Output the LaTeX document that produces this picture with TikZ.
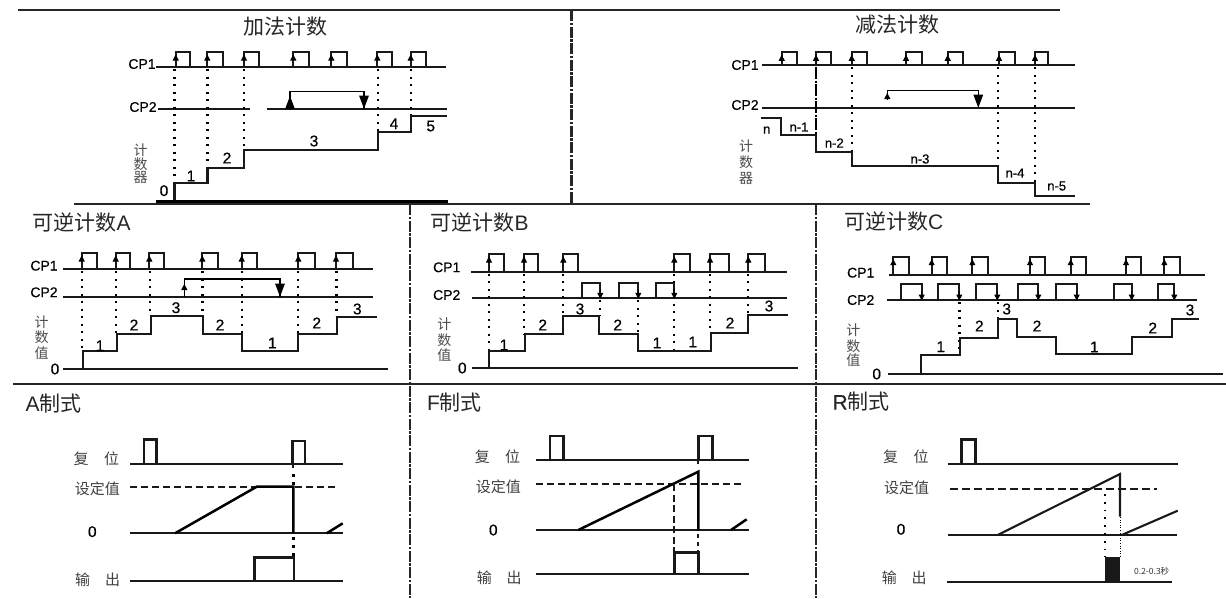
\documentclass[tikz,border=0pt]{standalone}
\usepackage{fontspec}
\setmainfont{Liberation Sans}
\newfontfamily\heavy[FakeBold=0.5]{Liberation Sans}
\newfontfamily\cjk{Noto Sans CJK SC}
\usetikzlibrary{arrows.meta}

\tikzset{
  frameline/.style={line width=2.1pt, black!85},
  divline/.style={line width=2.4pt, black!85, dash pattern=on 11pt off 1.5pt on 2.5pt off 1.5pt},
  sig/.style={line width=1.7pt, black!90},
  fatsig/.style={line width=2.1pt, black!90},
  modepulse/.style={line width=2.9pt, black!90},
  ticks/.style={line width=2.2pt, dash pattern=on 2.2pt off 5.3pt},
  smalltip/.style={-{Triangle[length=6pt,width=6pt]}, line width=1pt},
  bigtip/.style={-{Triangle[length=13pt,width=9.5pt]}, line width=1pt},
  chead/.style={font=\fontsize{21}{21}\selectfont, text=black!85},
  ctext/.style={font=\cjk\fontsize{14}{14}\selectfont, text=black!70},
  mtext/.style={font=\cjk\fontsize{15}{15}\selectfont, text=black!75},
  cplabel/.style={font=\heavy\fontsize{14}{14}\selectfont},
  val/.style={font=\heavy\fontsize{15.5}{15.5}\selectfont},
  nval/.style={font=\heavy\fontsize{13}{13}\selectfont},
}

% pulse on a line: rising x, falling x, top y, base y
\newcommand{\cpbox}[4]{\draw[sig] (#1,#4) -- (#1,#3) -- (#2,#3) -- (#2,#4);}
\newcommand{\cpup}[4]{\cpbox{#1}{#2}{#3}{#4}
  \draw[smalltip] (#1,#3+9) -- (#1,#3+2.5);}
\newcommand{\cpdown}[4]{\cpbox{#1}{#2}{#3}{#4}
  \draw[smalltip] (#2,#4-9) -- (#2,#4+0.5);}

\begin{document}
\begin{tikzpicture}[x=1pt, y=-1pt, line cap=butt, line join=miter]
\useasboundingbox (0,0) rectangle (1226,598);

% frame
\draw[frameline] (18,10) -- (1060,10);
\draw[frameline] (74,204) -- (1090,204);
\draw[frameline] (13,384) -- (1226,384);
\draw[divline] (571.5,10) -- (571.5,204);
\draw[divline] (410,204) -- (410,598);
\draw[divline] (816,204) -- (816,598);


% count up
\begin{scope}
\node[chead, font=\cjk\fontsize{21}{21}\selectfont] (uphead) at (285,27) {加法计数};
\node[cplabel] (upcpa) at (142,64) {CP1};
\node[cplabel] (upcpb) at (143,107) {CP2};
\draw[sig] (156,67) -- (446,67);
\draw[sig] (158,108.7) -- (250,108.7);
\draw[sig] (266.7,108.7) -- (447,108.7);
\foreach \a/\b in {175.7/190, 207.3/222.7, 244/259, 293.3/309.3, 331.3/346.7, 377.3/392.3, 410.7/425.7}
  \cpup{\a}{\b}{52}{67};
\foreach \a/\b in {174.5/183, 207.5/168, 244/150, 378/132, 410.7/116}
  \draw[ticks] (\a,69) -- (\a,\b);
\draw[line width=1.2pt] (290,108.7) -- (290,91.7) -- (364,91.7) -- (364,108.7);
\draw[bigtip] (290,108.7) -- (290,96);
\draw[bigtip] (364,94) -- (364,108.7);
\draw[fatsig] (174.5,202) -- (174.5,183.3) -- (207.5,183.3) -- (207.5,168.3) -- (244,168.3) -- (244,150) -- (378,150) -- (378,131.7) -- (410.7,131.7) -- (410.7,116) -- (447,116);
\draw[line width=3pt] (156,201.5) -- (448,201.5);
\foreach \x/\y/\t [count=\i] in {164/190.7/0, 191/176/1, 227/158/2, 314/141/3, 394/123.7/4, 430.7/126/5}
  \node[val] (upv\i) at (\x,\y) {\t};
\foreach \y/\t [count=\i] in {150/计, 164/数, 177/器}
  \node[ctext] (upc\i) at (140.7,\y) {\t};
\end{scope}


% count down
\begin{scope}
\node[chead, font=\cjk\fontsize{21}{21}\selectfont] (downhead) at (897,25) {减法计数};
\node[cplabel] (downcpa) at (745,65) {CP1};
\node[cplabel] (downcpb) at (745,105) {CP2};
\draw[sig] (761.7,65) -- (1075,65);
\draw[sig] (761.7,107.7) -- (1075,107.7);
\foreach \a/\b in {781.7/797.3, 816/831, 851.7/866.7, 906/921.7, 947.7/963.3, 999/1015, 1035/1048.3}
  \cpup{\a}{\b}{52.3}{65};
\draw[line width=1.6pt, dash pattern=on 12pt off 1.5pt on 2pt off 1.5pt] (816,67) -- (816,135);
\foreach \a/\b in {851.7/151, 998/166, 1035/182}
  \draw[ticks] (\a,67) -- (\a,\b);
\draw[line width=1.2pt] (887.3,97) -- (887.3,90.7) -- (978.3,90.7) -- (978.3,107.7);
\draw[smalltip] (887.3,99.5) -- (887.3,93);
\draw[bigtip] (978.3,94) -- (978.3,107.7);
\draw[fatsig] (760.7,118.3) -- (781,118.3) -- (781,134.7) -- (816,134.7) -- (816,151.7) -- (851.7,151.7) -- (851.7,166) -- (998,166) -- (998,182.7) -- (1035,182.7) -- (1035,196) -- (1075,196);
\foreach \x/\y/\t [count=\i] in {766.7/130/n, 799/127/n-1, 834.3/143/n-2, 920/159/n-3, 1015/173/n-4, 1056.7/186/n-5}
  \node[nval] (downv\i) at (\x,\y) {\t};
\foreach \y/\t [count=\i] in {146/计, 162/数, 178/器}
  \node[ctext] (downc\i) at (746,\y) {\t};
\end{scope}


% reversible A
\begin{scope}
\node[chead, anchor=west] (ahead) at (29,222) {{\cjk 可逆计数}A};
\node[cplabel] (acpa) at (44,265.7) {CP1};
\node[cplabel] (acpb) at (44,292.3) {CP2};
\draw[sig] (63,269.3) -- (373,269.3);
\draw[sig] (63,296.7) -- (373,296.7);
\draw[sig] (63,369.3) -- (388.3,369.3);
\foreach \a/\b in {81.7/97.3, 115.7/130, 149.3/164, 202.3/217.7, 241.7/257.3, 298.3/315, 336/352.7}
  \cpup{\a}{\b}{253}{269.3};
\foreach \a/\b in {82/350, 116/334, 150/315, 202.5/315, 241.7/334, 298.3/333, 336.5/316}
  \draw[ticks] (\a,271) -- (\a,\b);
\draw[line width=1.2pt] (184.3,296.7) -- (184.3,279) -- (280,279) -- (280,296.7);
\draw[smalltip] (184.3,293) -- (184.3,284);
\draw[bigtip] (280,283) -- (280,296.7);
\draw[fatsig] (82.7,369.3) -- (82.7,350.7) -- (116.7,350.7) -- (116.7,334) -- (150.7,334) -- (150.7,315.7) -- (202.7,315.7) -- (202.7,334) -- (241.7,334) -- (241.7,350.7) -- (298.3,350.7) -- (298.3,333.7) -- (336.7,333.7) -- (336.7,316.7) -- (376.7,316.7);
\foreach \x/\y/\t [count=\i] in {55/369/0, 100/345.7/1, 134/325/2, 176/307.7/3, 220/325/2, 272.3/343/1, 316.7/323/2, 357.3/309/3}
  \node[val] (av\i) at (\x,\y) {\t};
\foreach \y/\t [count=\i] in {321.7/计, 337.3/数, 352.7/值}
  \node[ctext] (ac\i) at (41.7,\y) {\t};
\end{scope}


% reversible B
\begin{scope}
\node[chead, anchor=west] (bhead) at (427,222) {{\cjk 可逆计数}B};
\node[cplabel] (bcpa) at (446.7,267.3) {CP1};
\node[cplabel] (bcpb) at (446.7,295) {CP2};
\draw[sig] (471,271.7) -- (786.7,271.7);
\draw[sig] (471.7,298.3) -- (786.7,298.3);
\draw[sig] (472.3,368.3) -- (797.7,368.3);
\foreach \a/\b in {489/504.3, 524/537.7, 563.3/578.3, 674.3/690, 710/729, 748.3/765}
  \cpup{\a}{\b}{254}{271.7};
\foreach \a/\b in {582.3/600.3, 619.3/638.3, 655.7/674.3}
  \cpdown{\a}{\b}{283.3}{298.3};
\foreach \a/\b in {489/350, 524/334, 563.3/316, 710/333, 748.3/315, 674.3/351}
  \draw[ticks] (\a,273.5) -- (\a,\b);
\foreach \a/\b in {599.6/316, 638/351}
  \draw[ticks] (\a,300) -- (\a,\b);
\draw[fatsig] (489,368.3) -- (489,350.7) -- (525,350.7) -- (525,334) -- (563.3,334) -- (563.3,316) -- (599.3,316) -- (599.3,334) -- (637.7,334) -- (637.7,351) -- (711,351) -- (711,332.7) -- (748.3,332.7) -- (748.3,315) -- (788.3,315);
\foreach \x/\y/\t [count=\i] in {462.3/368/0, 504/345/1, 542.7/325/2, 580/309/3, 617.7/325/2, 657/343/1, 692.7/342/1, 730/323/2, 769/306/3}
  \node[val] (bv\i) at (\x,\y) {\t};
\foreach \y/\t [count=\i] in {324.3/计, 340/数, 355/值}
  \node[ctext] (bc\i) at (444.3,\y) {\t};
\end{scope}


% reversible C
\begin{scope}
\node[chead, anchor=west] (chead) at (840.5,221.7) {{\cjk 可逆计数}C};
\node[cplabel] (ccpa) at (860.7,272.7) {CP1};
\node[cplabel] (ccpb) at (860.7,300) {CP2};
\draw[sig] (889,275) -- (1205,275);
\draw[sig] (886.7,300) -- (1196.7,300);
\draw[sig] (887.7,374.3) -- (1223,374.3);
\foreach \a/\b in {893.3/909, 931.7/946.7, 972.3/987.7, 1030/1045, 1070.7/1085.7, 1126/1141, 1164.3/1180}
  \cpup{\a}{\b}{256.7}{275};
\foreach \a/\b in {900.7/921.7, 938.3/959.3, 976/997.3, 1018.3/1038.3, 1056/1076.7, 1114/1131.7, 1158.3/1174.3}
  \cpdown{\a}{\b}{284}{300};
\foreach \a/\b in {959.5/355, 997.8/319}
  \draw[ticks] (\a,302) -- (\a,\b);
\draw[fatsig] (921,374.3) -- (921,355) -- (960,355) -- (960,338.3) -- (998.3,338.3) -- (998.3,319) -- (1016.7,319) -- (1016.7,336.7) -- (1055.7,336.7) -- (1055.7,354) -- (1132.3,354) -- (1132.3,336.7) -- (1171.7,336.7) -- (1171.7,319) -- (1199,319);
\foreach \x/\y/\t [count=\i] in {876.7/374/0, 940.7/346.7/1, 979.3/326/2, 1006.7/309/3, 1037/326/2, 1094.3/347/1, 1152.7/328/2, 1190/310/3}
  \node[val] (cv\i) at (\x,\y) {\t};
\foreach \y/\t [count=\i] in {330/计, 345.7/数, 360/值}
  \node[ctext] (cc\i) at (853.3,\y) {\t};
\end{scope}


% mode A
\begin{scope}
\node[chead, anchor=west] (modeahead) at (22,403.3) {A{\cjk 制式}};
\node[mtext] (modearst) at (81,458.3) {复};
\node[mtext] (modearsu) at (111.7,458.3) {位};
\node[mtext] (modeaset) at (97.3,488.3) {设定值};
\node[val] (modeazero) at (92.3,531.7) {0};
\node[mtext] (modeaout) at (82.7,580) {输};
\node[mtext] (modeaouu) at (112.7,580) {出};
\draw[sig] (130,464) -- (342.7,464);
\draw[sig] (130,533.3) -- (342.7,533.3);
\draw[sig] (130,580.7) -- (342.7,580.7);
\draw[fatsig, dash pattern=on 7pt off 4pt] (130,486.7) -- (336.7,486.7);
\draw[modepulse] (144,464) -- (144,439.3) -- (156.7,439.3) -- (156.7,464);
\draw[modepulse] (292.7,464) -- (292.7,441) -- (305,441) -- (305,464);
\draw[line width=2.5pt] (175,533.3) -- (256.7,486.7) -- (293.3,486.7) -- (293.3,533);
\draw[line width=2.5pt] (326.7,533.3) -- (342.7,523.3);
\draw[fatsig] (293.3,464) -- (293.3,468);
\draw[line width=2.4pt, dash pattern=on 3pt off 5pt] (293.3,474) -- (293.3,486);
\draw[line width=2.4pt, dash pattern=on 3pt off 5pt] (293.3,537) -- (293.3,556);
\draw[modepulse] (254.3,580.7) -- (254.3,557.7) -- (294,557.7) -- (294,580.7);
\end{scope}


% mode F
\begin{scope}
\node[chead, anchor=west] (modefhead) at (423.5,402.3) {F{\cjk 制式}};
\node[mtext] (modefrst) at (482.3,456.7) {复};
\node[mtext] (modefrsu) at (512.7,456.7) {位};
\node[mtext] (modefset) at (498.3,486.7) {设定值};
\node[val] (modefzero) at (493.3,530) {0};
\node[mtext] (modefout) at (484.3,578) {输};
\node[mtext] (modefouu) at (514,578) {出};
\draw[sig] (536,460.3) -- (749,460.3);
\draw[sig] (536,530) -- (749,530);
\draw[sig] (536,574.3) -- (749,574.3);
\draw[sig, dash pattern=on 7pt off 4pt] (536,484.3) -- (743.3,484.3);
\draw[modepulse] (550,460.3) -- (550,436) -- (563.3,436) -- (563.3,460.3);
\draw[modepulse] (698.3,460.3) -- (698.3,436) -- (712.7,436) -- (712.7,460.3);
\draw[line width=2.5pt] (578.3,530) -- (698.3,471.7) -- (698.3,530);
\draw[line width=2.5pt] (731,530) -- (746.7,519.3);
\draw[fatsig, dash pattern=on 7pt off 3.5pt] (674.3,484.3) -- (674.3,552);
\draw[fatsig] (698.3,460.3) -- (698.3,464);
\draw[fatsig, dash pattern=on 4pt off 4pt] (698.3,534) -- (698.3,552);
\draw[modepulse] (674.3,574.3) -- (674.3,552.3) -- (698.3,552.3) -- (698.3,574.3);
\end{scope}


% mode R
\begin{scope}
\node[chead, anchor=west] (moderhead) at (829,401.7) {{\heavy R}{\cjk 制式}};
\node[mtext] (moderrst) at (890.7,456.7) {复};
\node[mtext] (moderrsu) at (921,456.7) {位};
\node[mtext] (moderset) at (906.7,487.3) {设定值};
\node[val] (moderzero) at (901,529.3) {0};
\node[mtext] (moderout) at (889.3,577.7) {输};
\node[mtext] (moderouu) at (919,577.7) {出};
\draw[sig] (947.7,464) -- (1178.3,464);
\draw[sig] (947.7,535) -- (1177.3,535);
\draw[sig] (946.7,582.3) -- (1171.7,582.3);
\draw[fatsig, dash pattern=on 8pt off 4pt] (950,489) -- (1156.7,489);
\draw[modepulse] (961.7,464) -- (961.7,439.3) -- (975.7,439.3) -- (975.7,464);
\draw[fatsig] (997.7,535) -- (1120,474) -- (1120,516.7);
\draw[fatsig] (1121.7,535) -- (1177.7,510.7);
\draw[line width=0.6pt, dotted] (1120,517) -- (1120,557);
\draw[line width=1.8pt, dash pattern=on 1.8pt off 6pt] (1105,494) -- (1105,557);
\fill[black!90] (1105,556.7) rectangle (1120,582.3);
\node[font=\cjk\fontsize{8.5}{9}\selectfont, text=black!80] (modertime) at (1151.7,571.7) {0.2-0.3秒};
\end{scope}

\end{tikzpicture}
\end{document}
